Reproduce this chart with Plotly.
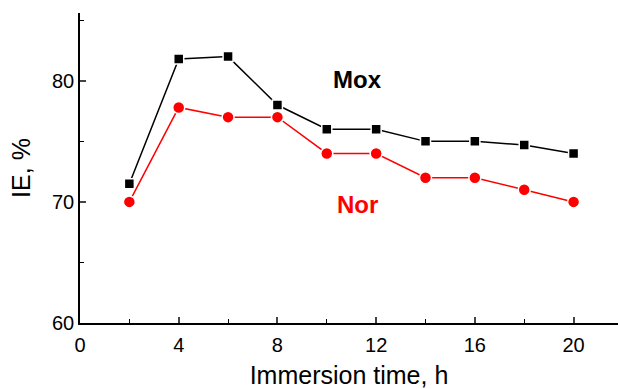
import plotly.graph_objects as go

time_h = [2, 4, 6, 8, 10, 12, 14, 16, 18, 20]
mox_ie = [71.5, 81.8, 82.0, 78.0, 76.0, 76.0, 75.0, 75.0, 74.7, 74.0]
nor_ie = [70.0, 77.8, 77.0, 77.0, 74.0, 74.0, 72.0, 72.0, 71.0, 70.0]
x_ticks = [0, 4, 8, 12, 16, 20]
y_ticks = [60, 70, 80]

fig = go.Figure()
fig.add_trace(go.Scatter(
    x=time_h, y=mox_ie, mode="lines+markers", name="Mox",
    line=dict(color="black", width=1.5),
    marker=dict(symbol="square", size=10, color="black", line=dict(color="white", width=1.5)),
))
fig.add_trace(go.Scatter(
    x=time_h, y=nor_ie, mode="lines+markers", name="Nor",
    line=dict(color="red", width=1.5),
    marker=dict(symbol="circle", size=12, color="red", line=dict(color="white", width=1.5)),
))

fig.add_annotation(x=11.25, y=80.1, text="<b>Mox</b>", showarrow=False,
                   font=dict(family="Arial, Liberation Sans", size=24, color="black"))
fig.add_annotation(x=11.25, y=69.8, text="<b>Nor</b>", showarrow=False,
                   font=dict(family="Arial, Liberation Sans", size=24, color="red"))

axis_font = dict(family="Arial, Liberation Sans", size=20, color="black")
fig.update_layout(
    width=618, height=389,
    margin=dict(l=80, r=0, t=13, b=66),
    plot_bgcolor="white", paper_bgcolor="white",
    showlegend=False,
    font=axis_font,
    xaxis=dict(
        range=[0, 21.8], tickvals=x_ticks, ticks="inside", ticklen=6, tickwidth=1.5,
        showline=True, linecolor="black", linewidth=1.5, showgrid=False, zeroline=False,
        minor=dict(tickvals=[2, 6, 10, 14, 18], ticks="inside", ticklen=4, tickwidth=1.2, tickcolor="black"),
        title=dict(text="Immersion time, h", font=dict(family="Arial, Liberation Sans", size=25), standoff=20),
        tickfont=axis_font, ticklabelstandoff=3, automargin=False,
    ),
    yaxis=dict(
        range=[60, 85.6], tickvals=y_ticks, ticks="inside", ticklen=6, tickwidth=1.5,
        showline=True, linecolor="black", linewidth=1.5, showgrid=False, zeroline=False,
        minor=dict(tickvals=[65, 75, 85], ticks="inside", ticklen=4, tickwidth=1.2, tickcolor="black"),
        title=dict(text="IE, %", font=dict(family="Arial, Liberation Sans", size=25), standoff=14),
        tickfont=axis_font, automargin=False,
    ),
)

fig.write_html("out.html")
